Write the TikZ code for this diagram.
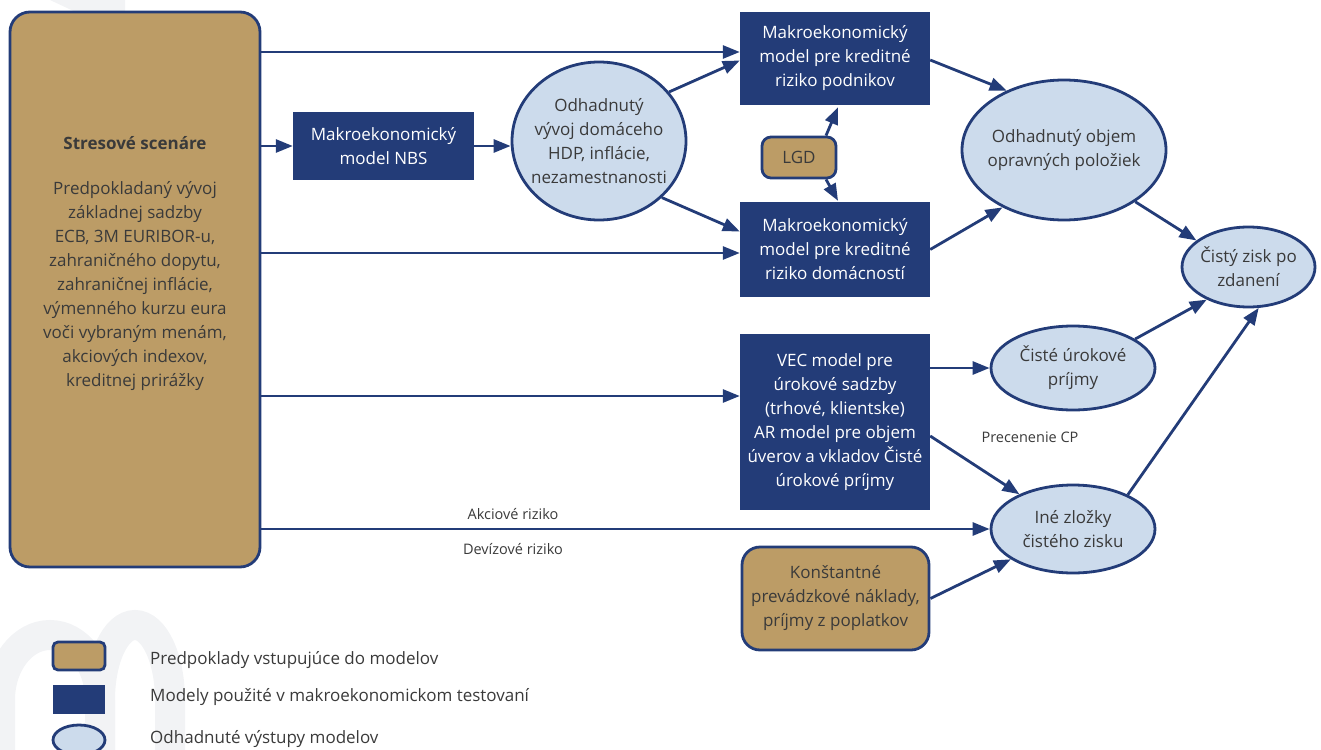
\documentclass[tikz,border=0pt]{standalone}
\usepackage{fontspec}
\setmainfont{Open Sans}
\usetikzlibrary{arrows.meta,shapes.geometric}
\definecolor{navy}{HTML}{233C78}
\definecolor{tan}{HTML}{BC9C66}
\definecolor{lblue}{HTML}{CCDBEC}
\definecolor{txt}{HTML}{3A3A3A}
\definecolor{wm}{HTML}{F2F3F5}
\tikzset{
  base/.style={font=\fontsize{17}{24}\selectfont, align=center, inner sep=0pt, text=txt},
  tanbox/.style={base, draw=navy, line width=2.8pt, fill=tan, rounded corners=12pt},
  navybox/.style={base, fill=navy, text=white},
  oval/.style={base, ellipse, draw=navy, line width=2.8pt, fill=lblue, inner sep=-30pt},
  arr/.style={draw=navy, line width=2.8pt, -{Triangle[length=17pt,width=13pt]}},
  lbl/.style={font=\fontsize{14.5}{18}\selectfont, text=txt, inner sep=0pt},
  legtxt/.style={font=\fontsize{17}{20}\selectfont, text=txt, inner sep=0pt, anchor=west},
}
\begin{document}
\begin{tikzpicture}[x=1pt,y=-1pt]
\useasboundingbox (0,0) rectangle (1321,749);
% watermark
\fill[wm] (50,0) -- (97,22) -- (125,22) -- (125,0) -- cycle;
\draw[wm, line width=30pt] (0,760) -- (0,700) arc[start angle=180, end angle=360, x radius=50, y radius=65] -- (100,760);
\draw[wm, line width=30pt] (100,760) -- (100,700) arc[start angle=180, end angle=360, x radius=35, y radius=75] -- (170,760);
% big scenario box
\node[tanbox, minimum width=250pt, minimum height=555pt, rounded corners=20pt] (ss) at (135,289.5) {};
\node[base, font=\fontsize{17}{24}\selectfont\bfseries] (sst) at (135,143) {Stresové scenáre};
\node[base] (ssx) at (135,286.5) {Predpokladaný vývoj\\ základnej sadzby\\ ECB, 3M EURIBOR-u,\\ zahraničného dopytu,\\ zahraničnej inflácie,\\ výmenného kurzu eura\\ voči vybraným menám,\\ akciových indexov,\\ kreditnej prirážky};
% model boxes
\node[navybox, minimum width=181pt, minimum height=68pt] (nbs) at (383.5,146) {Makroekonomický\\ model NBS};
\node[oval, minimum width=174pt, minimum height=158pt] (e1) at (599,141) {Odhadnutý\\ vývoj domáceho\\ HDP, inflácie,\\ nezamestnanosti};
\node[navybox, minimum width=190pt, minimum height=93pt] (pod) at (835,58.5) {Makroekonomický\\ model pre kreditné\\ riziko podnikov};
\node[navybox, minimum width=190pt, minimum height=95pt] (dom) at (835,249.5) {Makroekonomický\\ model pre kreditné\\ riziko domácností};
\node[tanbox, minimum width=74pt, minimum height=41pt, rounded corners=9pt] (lgd) at (799,157.5) {LGD};
\node[oval, minimum width=204pt, minimum height=140pt] (e2) at (1064,150) {Odhadnutý objem\\ opravných položiek};
\node[oval, minimum width=133pt, minimum height=80pt] (e3) at (1248.5,267) {Čistý zisk po\\ zdanení};
\node[navybox, minimum width=190pt, minimum height=176pt] (vec) at (835,422) {VEC model pre\\ úrokové sadzby\\ (trhové, klientske)\\ AR model pre objem\\ úverov a vkladov Čisté\\ úrokové príjmy};
\node[oval, minimum width=164pt, minimum height=84pt] (e4) at (1073,368) {Čisté úrokové\\ príjmy};
\node[oval, minimum width=164pt, minimum height=88pt] (ine) at (1073,529) {Iné zložky\\ čistého zisku};
\node[tanbox, minimum width=187pt, minimum height=103pt, rounded corners=18pt] (kon) at (835.5,598.5) {Konštantné\\ prevádzkové náklady,\\ príjmy z poplatkov};
% labels
\node[lbl] (ak) at (513,514) {Akciové riziko};
\node[lbl] (dv) at (513,549) {Devízové riziko};
\node[lbl] (pc) at (1030,437) {Precenenie CP};
% connectors
\coordinate (p1) at ([yshift=6.5pt]pod.west);
\draw[arr] (ss.east |- p1) -- (p1);
\draw[arr] (ss.east |- nbs.west) -- (nbs.west);
\draw[arr] (nbs.east) -- (nbs.east -| e1.west);
\draw[arr] (e1.35) -- ([yshift=-2pt]pod.west);
\draw[arr] (e1.-42) -- ([yshift=18pt]dom.west);
\coordinate (d1) at ([yshift=-3.5pt]dom.west);
\draw[arr] (ss.east |- d1) -- (d1);
\draw[arr] ([xshift=27pt]lgd.north) -- ([xshift=3pt,yshift=-2pt]pod.south);
\draw[arr] ([xshift=27pt]lgd.south) -- ([xshift=3pt,yshift=1pt]dom.north);
\draw[arr] ([yshift=-1.5pt]pod.east) -- (e2.134);
\draw[arr] (dom.east) -- (e2.-137);
\draw[arr] (e2.-36) -- (e3.153);
\coordinate (v1) at ([yshift=26pt]vec.west);
\draw[arr] (ss.east |- v1) -- (v1);
\draw[arr] (vec.east |- e4.west) -- (e4.west);
\draw[arr] (e4.25) -- (e3.218);
\draw[arr] ([yshift=-14pt]vec.east) -- (ine.147);
\draw[arr] (ine.32) -- (e3.-76);
\draw[arr] (ss.east |- ine.west) -- (ine.west);
\draw[arr] (kon.east) -- (ine.206);
% legend
\node[tanbox, minimum width=52pt, minimum height=28pt, rounded corners=5pt] (lg1) at (79,656) {};
\node[navybox, minimum width=52pt, minimum height=29pt] (lg2) at (79,699.5) {};
\node[oval, minimum width=52pt, minimum height=30pt] (lg3) at (79,740) {};
\node[legtxt] (lt1) at (150,660) {Predpoklady vstupujúce do modelov};
\node[legtxt] (lt2) at (150,697) {Modely použité v makroekonomickom testovaní};
\node[legtxt] (lt3) at (150,739) {Odhadnuté výstupy modelov};
\end{tikzpicture}
\end{document}
